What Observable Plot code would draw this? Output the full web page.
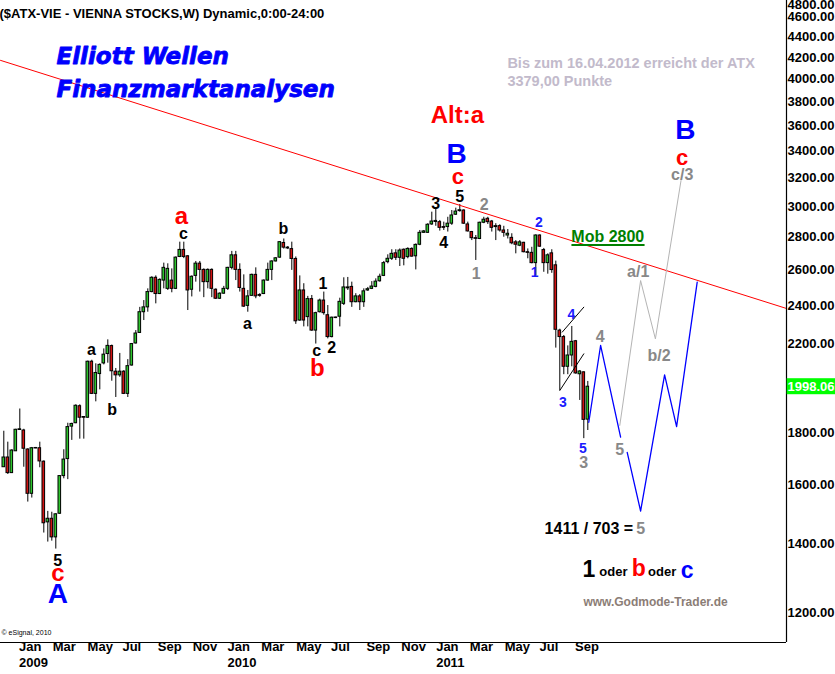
<!DOCTYPE html>
<html><head><meta charset="utf-8">
<script src="https://cdn.jsdelivr.net/npm/d3@7"></script>
<script src="https://cdn.jsdelivr.net/npm/@observablehq/plot@0.6"></script>
<style>
html,body{margin:0;padding:0;background:#fff;overflow:hidden;}
#chart svg{display:block;}
</style></head><body><div id="chart"></div>
<script>
// ---------- data (weekly candles, first week 2008-12-08) ----------
const START = Date.UTC(2008, 11, 8);
const DAY = 864e5;
const opens = [1666,1703,1644,1727,1812,1810,1734,1569,1740,1739,
1687,1471,1483,1422,1500,1633,1697,1826,1840,1912,
1866,1863,2114,1966,2056,2106,2151,2190,2067,2050,
2067,1966,2096,2203,2256,2364,2390,2474,2555,2463,
2539,2492,2539,2492,2678,2721,2682,2487,2566,2638,
2601,2530,2601,2487,2437,2465,2492,2613,2688,2601,
2492,2398,2453,2572,2458,2463,2539,2601,2651,2674,
2764,2735,2726,2666,2320,2483,2338,2435,2268,2364,
2427,2348,2235,2333,2340,2409,2495,2503,2418,2450,
2418,2483,2492,2503,2535,2566,2647,2667,2700,2673,
2722,2677,2727,2682,2753,2828,2828,2882,2898,2897,
2865,2865,2887,2946,2970,2974,2882,2833,2794,2789,
2893,2919,2901,2871,2871,2843,2811,2796,2768,2747,
2765,2707,2703,2641,2811,2720,2641,2700,2628,2268,
2235,2090,2144,2214,2055,2064,1855];
const highs = [1807,1763,1733,1815,1900,1815,1737,1742,1742,1763,
1690,1508,1505,1500,1634,1733,1840,1840,1918,1918,
1868,2117,2121,2104,2104,2176,2221,2195,2082,2154,
2072,2124,2203,2268,2390,2427,2492,2561,2566,2549,
2641,2637,2607,2678,2769,2769,2686,2566,2651,2651,
2607,2607,2607,2492,2470,2506,2616,2712,2712,2637,
2572,2483,2576,2613,2465,2543,2641,2655,2674,2772,
2789,2742,2769,2678,2566,2521,2450,2455,2364,2435,
2474,2400,2338,2338,2440,2555,2557,2530,2465,2460,
2492,2500,2533,2549,2576,2651,2691,2722,2722,2727,
2727,2734,2734,2758,2843,2843,2887,2963,2994,2908,
2897,2929,2974,2990,3015,2979,2897,2837,2811,2897,
2929,2929,2908,2887,2880,2870,2849,2822,2779,2779,
2768,2727,2737,2815,2815,2730,2697,2722,2653,2275,
2243,2191,2289,2218,2072,2066,2022];
const lows = [1666,1639,1644,1727,1810,1666,1540,1554,1737,1664,
1436,1407,1410,1385,1498,1623,1620,1770,1838,1775,
1775,1861,1963,1931,1984,2099,2107,2023,1950,2041,
1963,1950,2093,2200,2253,2320,2364,2470,2409,2460,
2492,2483,2470,2488,2674,2668,2373,2447,2530,2474,
2443,2492,2443,2433,2433,2462,2483,2601,2539,2474,
2390,2364,2450,2437,2445,2460,2535,2539,2648,2670,
2726,2723,2598,2300,2316,2287,2287,2264,2200,2360,
2348,2226,2231,2330,2287,2400,2483,2390,2415,2373,
2390,2478,2488,2498,2530,2562,2637,2657,2657,2621,
2625,2667,2677,2601,2747,2825,2825,2876,2870,2839,
2843,2833,2876,2941,2963,2882,2833,2779,2657,2785,
2887,2882,2833,2779,2833,2800,2789,2753,2697,2741,
2703,2667,2637,2566,2737,2587,2576,2581,2180,1981,
2053,2053,2090,2055,1937,1777,1810];
const closes = [1703,1644,1730,1813,1815,1737,1569,1739,1738,1688,
1468,1483,1422,1498,1633,1695,1824,1837,1914,1863,
1863,2114,1966,2061,2099,2148,2191,2069,2050,2067,
1966,2093,2200,2253,2364,2390,2474,2555,2463,2543,
2613,2607,2492,2674,2721,2678,2483,2561,2638,2601,
2530,2601,2492,2437,2465,2492,2613,2688,2601,2497,
2394,2450,2572,2450,2453,2539,2601,2651,2670,2769,
2735,2730,2666,2316,2483,2320,2435,2268,2359,2427,
2359,2235,2335,2336,2420,2500,2500,2418,2450,2418,
2478,2490,2505,2533,2561,2641,2667,2697,2673,2717,
2667,2727,2680,2752,2828,2837,2880,2901,2905,2860,
2860,2887,2941,2967,2976,2887,2837,2794,2790,2893,
2913,2897,2860,2865,2843,2828,2822,2762,2753,2768,
2707,2703,2641,2811,2741,2641,2688,2600,2272,2235,
2090,2144,2211,2059,2068,1854,1998.06];
const lastClose = 1998.065;

// axis ticks
const yTickValues = [1200,1400,1600,1800,2200,2400,2600,2800,3000,3200,3400,3600,3800,4000,4200,4400,4600,4800];
const monthTickDates = ["2009-01-01","2009-03-01","2009-05-01","2009-07-01","2009-09-01","2009-11-01",
  "2010-01-01","2010-03-01","2010-05-01","2010-07-01","2010-09-01","2010-11-01",
  "2011-01-01","2011-03-01","2011-05-01","2011-07-01","2011-09-01"];
const monthTickLabels = ["Jan","Mar","May","Jul","Sep","Nov","Jan","Mar","May","Jul","Sep","Nov","Jan","Mar","May","Jul","Sep"];
const yearTickDates = ["2009-01-01","2010-01-01","2011-01-01"];
const yearTickLabels = ["2009","2010","2011"];

// lines (week index, price)
const trendWeeks = [-0.825, 195.675];
const trendPrices = [4174, 2384];
const blueWeeksA = [146.25, 149.2, 154.2];
const bluePricesA = [1844, 2193, 1783];
const blueWeeksB = [155.85, 159.2, 165.2, 168.2, 173.35];
const bluePricesB = [1723, 1509, 2052, 1826, 2530];
const grayWeeks = [154, 159.2, 162.9, 169.3];
const grayPrices = [1831, 2539, 2226, 3182];
const chanUpperWeeks = [139.6, 145], chanUpperPrices = [2260, 2391];
const chanLowerWeeks = [139, 145], chanLowerPrices = [1981, 2152];
const mobLineWeeks = [142.1, 160], mobLinePrices = [2752, 2752];

// labels: [week, price, text]
const redBigLabels = [[113.4,3685,"Alt:a"],[44.4,2934,"a"],[78.4,2082,"b"],[13.5,1311,"c"]];
const redMidLabels = [[113.5,3205,"c"],[169.6,3350,"c"]];
const blueBigLabels = [[113.2,3382,"B"],[170.4,3568,"B"],[13.5,1252,"A"]];
const blackLabels = [[114,3068,"5"],[108,3019,"3"],[110,2762,"4"],[44.9,2824,"c"],[60.9,2304,"a"],[69.9,2856,"b"],
  [79.8,2520,"1"],[78.2,2168,"c"],[82,2183,"2"],[21.9,2173,"a"],[27.1,1898,"b"],[13.5,1350,"5"]];
const grayLabels = [[120.1,3015,"2"],[118.1,2580,"1"],[158.6,2591,"a/1"],[149.1,2234,"4"],[163.8,2144,"b/2"],
  [145,1683,"3"],[154,1733,"5"],[169.6,3223,"c/3"]];
const blueSmallLabels = [[133.8,2895,"2"],[132.7,2585,"1"],[141.9,2350,"4"],[139.75,1929,"3"],[144.75,1738,"5"]];
const mobLabel = [[151,2805,"Mob 2800"]];
const ratioLabel = [[135.2,1450,"1411 / 703 ="]];
const ratioFive = [[159.2,1450,"5"]];
const oderBig = [[146.25,1322,"1","#000000"],[158.75,1324,"b","#ff0000"],[170.85,1319,"c","#0000ff"]];
const oderSmall = [[152.4,1317,"oder"],[164.6,1317,"oder"]];
const siteLabel = [[144.9,1228,"www.Godmode-Trader.de"]];
const noteLabels = [[125.9,4144,"Bis zum 16.04.2012 erreicht der ATX"],[125.9,3982,"3379,00 Punkte"]];

const headerText = "($ATX-VIE - VIENNA STOCKS,W) Dynamic,0:00-24:00";
const titleLines = ["Elliott Wellen", "Finanzmarktanalysen"];
const copyrightText = "© eSignal, 2010";

// ---------- build ----------
const wk = w => new Date(START + w * 7 * DAY);
const xDomain = [wk(-0.825), wk(195.675)];
const yDomain = [1121.6, 4778];
const candles = opens.map((o, i) => ({date: wk(i), open: o, high: highs[i], low: lows[i], close: closes[i]}));
const up = candles.filter(d => d.close >= d.open);
const down = candles.filter(d => d.close < d.open);
const pts = (ws, ps, id) => ws.map((w, i) => ({x: wk(w), y: ps[i], id}));
const F = "Liberation Sans, Arial, Helvetica, sans-serif";
const half = 2.275 * DAY;

const lbl = (data, fill, size, extra = {}) => Plot.text(data, {
  x: d => wk(d[0]), y: d => d[1], text: d => d[2], fill, fontSize: size,
  fontWeight: "bold", fontFamily: F, ...extra
});

const chart = Plot.plot({
  width: 835, height: 674,
  marginLeft: 0, marginRight: 49, marginTop: 0, marginBottom: 32,
  x: {type: "utc", domain: xDomain, axis: null},
  y: {type: "log", domain: yDomain, axis: null},
  style: {background: "#fff", overflow: "visible"},
  marks: [
    Plot.ruleX(candles, {x: "date", y1: "low", y2: "high", stroke: "#000", strokeWidth: 1}),
    Plot.rect(up, {x1: d => new Date(+d.date - half), x2: d => new Date(+d.date + half), y1: "open", y2: "close", fill: "#2ec42e", stroke: "#000", strokeWidth: 1}),
    Plot.rect(down, {x1: d => new Date(+d.date - half), x2: d => new Date(+d.date + half), y1: "open", y2: "close", fill: "#d01414", stroke: "#000", strokeWidth: 1}),
    Plot.line(pts(trendWeeks, trendPrices, "t"), {x: "x", y: "y", stroke: "#ff0000", strokeWidth: 1}),
    Plot.line([...pts(chanUpperWeeks, chanUpperPrices, "u"), ...pts(chanLowerWeeks, chanLowerPrices, "l")], {x: "x", y: "y", z: "id", stroke: "#000", strokeWidth: 1}),
    Plot.line(pts(grayWeeks, grayPrices, "g"), {x: "x", y: "y", stroke: "#b4b4b4", strokeWidth: 1}),
    Plot.line([...pts(blueWeeksA, bluePricesA, "a"), ...pts(blueWeeksB, bluePricesB, "b")], {x: "x", y: "y", z: "id", stroke: "#0000ff", strokeWidth: 1.3}),
    Plot.line(pts(mobLineWeeks, mobLinePrices, "m"), {x: "x", y: "y", stroke: "#008000", strokeWidth: 2}),
    Plot.ruleX([xDomain[1]], {stroke: "#000", strokeWidth: 1.2}),
    Plot.ruleY([yDomain[0]], {stroke: "#000", strokeWidth: 1.2}),
    // right axis labels
    Plot.text(yTickValues.filter(v => v <= yDomain[1]), {y: d => d, text: d => d.toFixed(2), frameAnchor: "right", textAnchor: "start", dx: 1, fontSize: 13, fontWeight: "bold", fontFamily: F, fill: "#000"}),
    Plot.text(yTickValues.filter(v => v > yDomain[1]), {text: d => d.toFixed(2), frameAnchor: "top-right", textAnchor: "start", lineAnchor: "top", dx: 1, dy: -1, fontSize: 13, fontWeight: "bold", fontFamily: F, fill: "#000"}),
    // bottom axis labels
    Plot.text(monthTickDates, {x: d => new Date(d), text: (d, i) => monthTickLabels[i], frameAnchor: "bottom", textAnchor: "start", dx: 1.5, dy: 8, fontSize: 13, fontWeight: "bold", fontFamily: "Liberation Sans Narrow, Arial Narrow, " + F, fill: "#000"}),
    Plot.text(yearTickDates, {x: d => new Date(d), text: (d, i) => yearTickLabels[i], frameAnchor: "bottom", textAnchor: "start", dx: 1.5, dy: 24, fontSize: 13, fontWeight: "bold", fontFamily: "Liberation Sans Narrow, Arial Narrow, " + F, fill: "#000"}),
    // header, title, copyright
    Plot.text([headerText], {frameAnchor: "top-left", textAnchor: "start", dx: -1, dy: 8, fontSize: 13, fontWeight: "bold", fontFamily: F, fill: "#000"}),
    Plot.text([titleLines[0]], {frameAnchor: "top-left", textAnchor: "start", dx: 56, dy: 47, fontSize: 23, fontWeight: "bold", fontStyle: "oblique", fontFamily: "DejaVu Sans, sans-serif", fill: "#0000ff", stroke: "#0000ee", strokeWidth: 0.8}),
    Plot.text([titleLines[1]], {frameAnchor: "top-left", textAnchor: "start", dx: 56, dy: 80, fontSize: 23, fontWeight: "bold", fontStyle: "oblique", fontFamily: "DejaVu Sans, sans-serif", fill: "#0000ff", stroke: "#0000ee", strokeWidth: 0.8}),
    Plot.text([copyrightText], {frameAnchor: "bottom-left", textAnchor: "start", dx: 1, dy: -8, fontSize: 7, fontFamily: F, fill: "#000"}),
    // wave labels
    lbl(redBigLabels, "#ff0000", 24),
    lbl(redMidLabels, "#ff0000", 22),
    lbl(blueBigLabels, "#0000ff", 28),
    lbl(blackLabels, "#000000", 16),
    lbl(grayLabels, "#888888", 16),
    lbl(blueSmallLabels, "#1a1aff", 14),
    lbl(mobLabel, "#008000", 16),
    lbl(ratioLabel, "#000000", 16, {textAnchor: "start"}),
    lbl(ratioFive, "#888888", 16),
    ...oderBig.map(d => lbl([d], d[3], 23)),
    lbl(oderSmall, "#000000", 13),
    lbl(siteLabel, "#8b7d76", 12, {textAnchor: "start"}),
    lbl(noteLabels, "#c2bacb", 14.5, {textAnchor: "start"})
  ]
});

document.getElementById("chart").appendChild(chart);

// last price tag on the right axis, positioned through the plot's own scales
const yTag = chart.scale("y").apply(lastClose);
const xTag = chart.scale("x").apply(xDomain[1]);
const svg = d3.select(chart);
svg.append("rect").attr("x", xTag + 0.7).attr("y", yTag - 8).attr("width", 60).attr("height", 16).attr("fill", "#00ff00");
svg.append("text").attr("x", xTag + 1.5).attr("y", yTag).attr("dy", "0.36em").attr("text-anchor", "start")
  .attr("fill", "#ffffff").style("font", "bold 13px " + F).text(lastClose.toFixed(3));
</script>
</body></html>
